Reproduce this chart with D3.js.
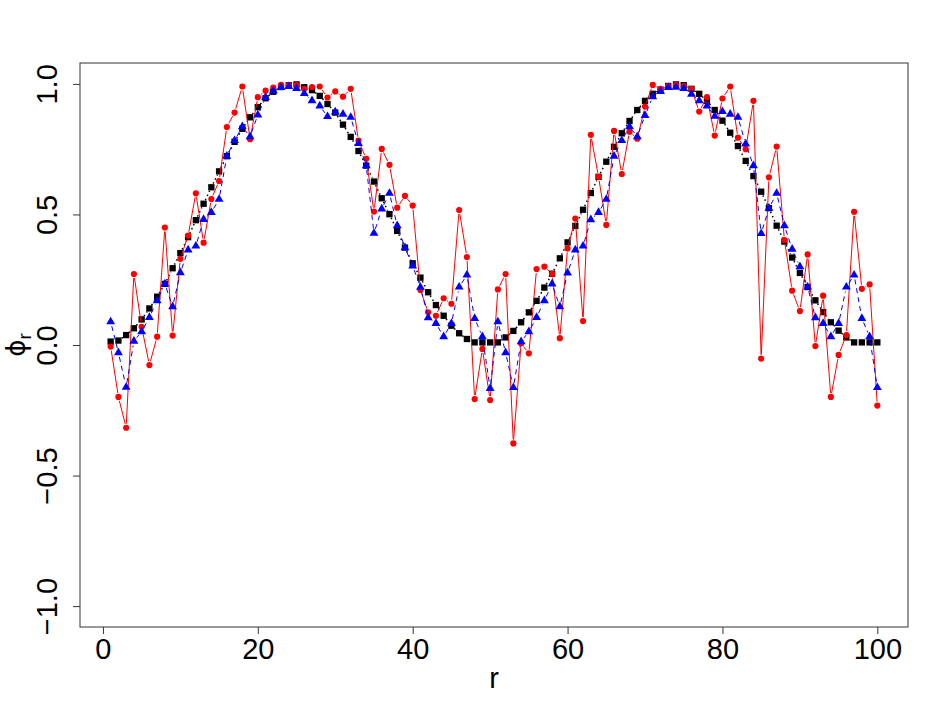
<!DOCTYPE html>
<html><head><meta charset="utf-8">
<script src="https://cdn.jsdelivr.net/npm/d3@7"></script>
<style>body{margin:0;background:#fff;}</style>
</head><body>
<script>
const rIndex = d3.range(1, 101);
const blackVals = [0.013,0.017,0.038,0.064,0.098,0.14,0.185,0.234,0.294,0.352,
0.413,0.478,0.541,0.604,0.665,0.723,0.778,0.828,0.872,0.911,
0.945,0.97,0.988,0.995,0.998,0.987,0.976,0.954,0.923,0.89,
0.844,0.797,0.743,0.687,0.626,0.562,0.501,0.437,0.373,0.313,
0.258,0.202,0.153,0.112,0.074,0.045,0.023,0.010,0.010,0.010,
0.010,0.029,0.054,0.087,0.125,0.169,0.22,0.273,0.332,0.393,
0.456,0.518,0.582,0.644,0.702,0.759,0.811,0.858,0.900,0.935,
0.962,0.978,0.992,0.998,0.995,0.981,0.962,0.935,0.900,0.859,
0.813,0.762,0.705,0.647,0.587,0.524,0.457,0.396,0.335,0.276,
0.222,0.171,0.126,0.087,0.055,0.029,0.010,0.010,0.010,0.010];
const redVals = [-0.006,-0.199,-0.317,0.272,0.070,-0.077,0.032,0.45,0.036,0.33,
0.419,0.581,0.392,0.559,0.628,0.835,0.89,0.99,0.788,0.949,
0.974,0.986,0.996,0.995,0.995,0.981,0.988,0.99,0.948,0.971,
0.951,0.981,0.783,0.713,0.511,0.751,0.69,0.526,0.571,0.534,
0.211,0.125,0.112,0.179,0.158,0.517,0.337,-0.207,-0.015,-0.211,
0.213,0.272,-0.377,0.006,-0.032,0.291,0.30,0.273,0.026,0.37,
0.484,0.092,0.805,0.644,0.46,0.82,0.655,0.817,0.79,0.913,
0.996,0.981,0.992,0.996,0.992,0.981,0.894,0.949,0.802,0.944,
0.99,0.794,0.75,0.935,-0.052,0.642,0.76,0.402,0.208,0.13,
0.347,-0.004,0.189,-0.199,-0.038,0.038,0.51,0.215,0.232,-0.232];
const blueVals = [0.089,-0.029,-0.162,0.015,0.051,0.106,0.17,0.234,0.147,0.277,
0.364,0.379,0.481,0.508,0.558,0.723,0.783,0.836,0.798,0.881,
0.948,0.973,0.986,0.99,0.983,0.963,0.936,0.916,0.875,0.893,
0.884,0.872,0.772,0.687,0.428,0.521,0.581,0.457,0.373,0.303,
0.221,0.105,0.083,0.032,0.083,0.222,0.268,0.102,0.032,-0.166,
0.089,-0.029,-0.163,0.013,0.051,0.106,0.17,0.234,0.147,0.276,
0.364,0.379,0.48,0.508,0.558,0.723,0.783,0.836,0.798,0.879,
0.951,0.971,0.986,0.987,0.983,0.961,0.936,0.916,0.876,0.894,
0.884,0.872,0.77,0.687,0.427,0.524,0.581,0.457,0.367,0.30,
0.222,0.105,0.083,0.032,0.083,0.222,0.268,0.102,0.032,-0.163];
const xTicks = [0,20,40,60,80,100];
const yTicks = [-1.0,-0.5,0.0,0.5,1.0];
const xLabel = "r";

const W = 941, H = 706;
const L = 80, R = 908, T = 63, B = 627;
const svg = d3.select("body").append("svg").attr("width", W).attr("height", H)
  .style("font-family", "'Liberation Sans', Arial, sans-serif");

const x = d3.scaleLinear().domain([1 - 0.04*99, 100 + 0.04*99]).range([L, R]);
const y = d3.scaleLinear().domain([-1.08, 1.08]).range([B, T]);

// box
svg.append("rect").attr("x", L).attr("y", T).attr("width", R - L).attr("height", B - T)
  .attr("fill", "none").attr("stroke", "#333").attr("stroke-width", 1);

// axes
const xAxis = d3.axisBottom(x).tickValues(xTicks).tickFormat(d3.format("d")).tickSize(7).tickPadding(4);
const gx = svg.append("g").attr("transform", `translate(0,${B})`).call(xAxis);
gx.select(".domain").remove();
gx.selectAll("line").attr("stroke", "#333");
gx.selectAll("text").attr("font-size", 29).attr("fill", "#000").attr("font-family", "'Liberation Sans', Arial, sans-serif");

const yAxis = d3.axisLeft(y).tickValues(yTicks).tickFormat(d3.format(".1f")).tickSize(7);
const gy = svg.append("g").attr("transform", `translate(${L},0)`).call(yAxis);
gy.select(".domain").remove();
gy.selectAll("line").attr("stroke", "#333");
gy.selectAll("text").remove();
gy.selectAll(".tick").append("text")
  .attr("transform", "translate(-23,0) rotate(-90)")
  .attr("text-anchor", "middle").attr("font-size", 29).attr("fill", "#000")
  .attr("font-family", "'Liberation Sans', Arial, sans-serif")
  .text(d => d3.format(".1f")(d).replace("-", "\u2212"));

// axis titles
svg.append("text").attr("x", (L + R) / 2).attr("y", 688).attr("text-anchor", "middle")
  .attr("font-size", 29).text(xLabel);
const yt = svg.append("text").attr("transform", `translate(25,${(T + B) / 2}) rotate(-90)`)
  .attr("text-anchor", "middle").attr("font-size", 26);
yt.append("tspan").attr("font-family", "'DejaVu Sans', sans-serif").text("\u03D5");
yt.append("tspan").attr("font-size", 19).attr("dy", 6).text("r");

const clip = svg.append("g");

function gapLines(vals, color, dash, gap, width) {
  const pts = vals.map((v, i) => [x(rIndex[i]), y(v)]);
  const segs = [];
  for (let i = 0; i < pts.length - 1; i++) {
    const [x0, y0] = pts[i], [x1, y1] = pts[i + 1];
    const dx = x1 - x0, dy = y1 - y0, len = Math.hypot(dx, dy);
    if (len <= 2 * gap) continue;
    const ux = dx / len, uy = dy / len;
    segs.push([[x0 + ux * gap, y0 + uy * gap], [x1 - ux * gap, y1 - uy * gap]]);
  }
  clip.append("g").selectAll("path").data(segs).join("path")
    .attr("d", d => d3.line()(d))
    .attr("fill", "none").attr("stroke", color).attr("stroke-width", width)
    .attr("stroke-dasharray", dash);
}

function markers(vals, color, type, size) {
  clip.append("g").selectAll("path").data(vals).join("path")
    .attr("transform", (v, i) => `translate(${x(rIndex[i])},${y(v)})`)
    .attr("d", d3.symbol().type(type).size(size))
    .attr("fill", color);
}

gapLines(blackVals, "#000", "1.5,3", 4, 1.5);
markers(blackVals, "#000", d3.symbolSquare, 40);
gapLines(redVals, "#ff0000", null, 4, 1);
markers(redVals, "#ff0000", d3.symbolCircle, 30);
gapLines(blueVals, "#0000ff", "5,4", 4.5, 1);
markers(blueVals, "#0000ff", d3.symbolTriangle, 34);
</script>
</body></html>
